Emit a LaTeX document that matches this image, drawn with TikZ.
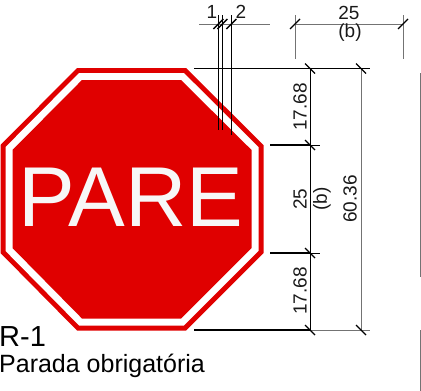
\documentclass[tikz,border=0pt]{standalone}
\usepackage{fontspec}
\setmainfont{Liberation Sans}
\definecolor{signred}{HTML}{E00000}
\newcommand{\octa}[1]{(77+#1*0.414,68+#1) -- (186-#1*0.414,68+#1) -- (263.5-#1,145+#1*0.414) -- (263.5-#1,253-#1*0.414) -- (186-#1*0.414,330.5-#1) -- (77+#1*0.414,330.5-#1) -- (0.5+#1,253-#1*0.414) -- (0.5+#1,145+#1*0.414) -- cycle}
\tikzset{
  dimline/.style={line width=0.8pt,black},
  greyline/.style={line width=1pt,black!55},
  heavyline/.style={line width=1.3pt,black},
  tick/.style={line width=1.4pt,black},
  dimtext/.style={font=\fontsize{19}{19}\selectfont,inner sep=0pt,text=black!90},
  vtext/.style={dimtext,rotate=90},
}
\newcommand{\tickup}[1]{\draw[tick] ([shift={(-5,5)}]#1) -- ([shift={(5,-5)}]#1);}
\newcommand{\tickdn}[1]{\draw[tick] ([shift={(-5,-5)}]#1) -- ([shift={(5,5)}]#1);}
\begin{document}
\begin{tikzpicture}[x=1pt,y=-1pt]
\useasboundingbox (0,0) rectangle (421,391);
% sign
\fill[signred] \octa{0};
\fill[white] \octa{5};
\fill[signred] \octa{12};
\node[font=\fontsize{85}{85}\selectfont,text=white!97!black,inner sep=0pt,anchor=center] (pare) at (131,197) {PARE};
% coordinates
\coordinate (a1) at (218.3,24);
\coordinate (a2) at (222.3,24);
\coordinate (a3) at (231.3,24);
\coordinate (b1) at (295,24);
\coordinate (b2) at (403,24);
\coordinate (c1) at (310,68.5);
\coordinate (c2) at (310,145);
\coordinate (c3) at (310,253);
\coordinate (c4) at (310,330);
\coordinate (d1) at (361,68.5);
\coordinate (d4) at (361,330);
% extension lines at the top
\draw[greyline] (199,24) -- (270,24);
\draw[dimline] (218.3,15) -- (218.3,130);
\draw[dimline] (222.3,15) -- (222.3,130);
\draw[dimline] (231.3,15) -- (231.3,135);
\draw[greyline] (b1) -- (b2);
\draw[greyline] (295,15) -- (295,59);
\draw[greyline] (403,15) -- (403,59);
% horizontal extensions
\draw[dimline] (194,68.5) -- (370,68.5);
\draw[heavyline] (270,145) -- (c2);
\draw[dimline] (c2) -- (320,145);
\draw[heavyline] (270,253) -- (c3);
\draw[dimline] (c3) -- (320,253);
\draw[heavyline] (194,330) -- (c4);
\draw[greyline] (c4) -- (370,330);
% vertical dimension lines
\draw[dimline] (c1) -- (c4);
\draw[greyline] (d1) -- (d4);
\draw[greyline] (420,73) -- (420,277);
\draw[greyline] (420,330) -- (420,391);
% ticks
\tickup{a1}\tickup{a2}\tickup{a3}\tickup{b1}\tickup{b2}
\tickdn{c1}\tickdn{c2}\tickdn{c3}\tickdn{c4}\tickdn{d1}\tickdn{d4}
% labels
\node[dimtext] (l1) at (212,12) {1};
\node[dimtext] (l2) at (241,12) {2};
\node[dimtext] (l25) at (349,13) {25};
\node[dimtext] (lb) at (350,33) {(b)};
\node[vtext] (h1) at (300,107) {17.68};
\node[vtext] (h2) at (300,199) {25};
\node[vtext] (hb) at (322,199) {(b)};
\node[vtext] (h3) at (300,291) {17.68};
\node[vtext] (h4) at (350,199) {60.36};
\node[font=\fontsize{29}{29}\selectfont,inner sep=0pt,anchor=base west] (r1) at (-1,346.5) {R-1};
\node[font=\fontsize{25}{25}\selectfont,inner sep=0pt,anchor=base west] (pa) at (-1,372) {Parada obrigatória};
\end{tikzpicture}
\end{document}
